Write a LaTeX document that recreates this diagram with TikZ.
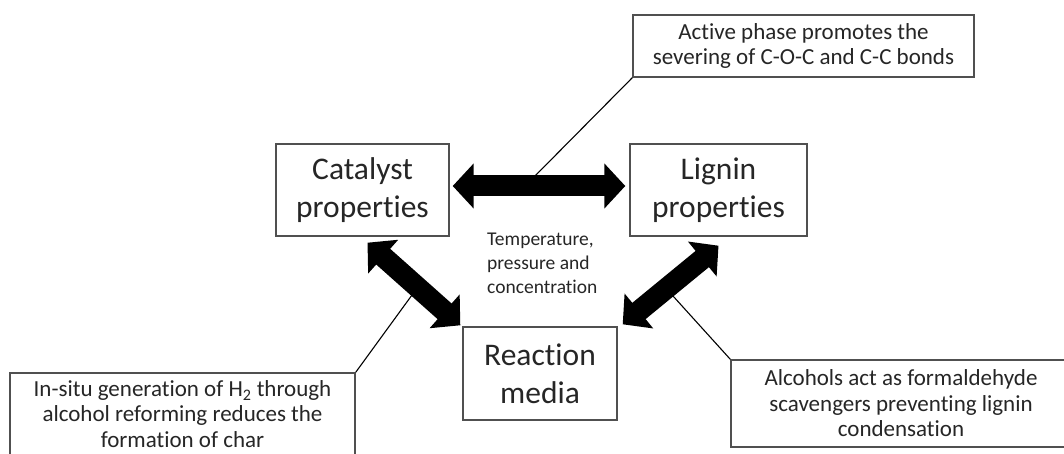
\documentclass[tikz,border=0pt]{standalone}
\usepackage{fontspec}
\setmainfont{Carlito}[Ligatures=NoCommon]
\usetikzlibrary{arrows.meta}
\definecolor{txt}{HTML}{262626}
\definecolor{boxline}{HTML}{505050}
\tikzset{
  mainbox/.style={draw=boxline, line width=1.4pt, inner sep=0pt, align=center, text=txt,
    font=\fontsize{31.5}{38}\selectfont},
  calloutbox/.style={draw=boxline, line width=1.4pt, inner sep=0pt, align=center, text=txt,
    font=\fontsize{23}{25.5}\selectfont},
  centertext/.style={inner sep=0pt, align=left, text=txt, font=\fontsize{19.5}{24}\selectfont},
  bigarrow/.style={line width=21pt, black,
    {Triangle[length=21pt,width=44pt]}-{Triangle[length=21pt,width=44pt]}},
  leader/.style={black, line width=1.1pt}
}
\begin{document}
\begin{tikzpicture}[x=1pt,y=-1pt]
\clip (0,0) rectangle (1064,454);
\fill[white] (0,0) rectangle (1064,454);
\node[mainbox, minimum width=173pt, minimum height=92pt] (cat) at (362.5,190) {Catalyst\\properties};
\node[mainbox, minimum width=177pt, minimum height=92pt] (lig) at (718.5,190) {Lignin\\properties};
\node[mainbox, minimum width=154pt, minimum height=93pt] (rm) at (540,373.5) {Reaction\\media};
\node[calloutbox, minimum width=341pt, minimum height=62pt] (top) at (803.5,46) {Active phase promotes the\\severing of C-O-C and C-C bonds};
\node[calloutbox, minimum width=345pt, minimum height=82pt] (lb) at (182.5,414) {In-situ generation of H\textsubscript{2} through\\alcohol reforming reduces the\\formation of char};
\node[calloutbox, minimum width=340pt, minimum height=87pt] (rb) at (901,403.5) {Alcohols act as formaldehyde\\scavengers preventing lignin\\condensation};
\node[centertext, anchor=north west] (temp) at (487,233) {Temperature,\\pressure and\\concentration};
\coordinate (c1) at (533,178);
\coordinate (c2) at (412,295);
\coordinate (c3) at (673,296);
\draw[leader] (c1) -- (top.south west);
\draw[leader] (c2) -- (lb.north east);
\draw[leader] (c3) -- (rb.north west);
\draw[bigarrow] ([shift={(3,-4)}]cat.east) -- ([shift={(-4,-4)}]lig.west);
\draw[bigarrow] ([shift={(5,6)}]cat.south) -- ([shift={(-2,-1)}]rm.north west);
\draw[bigarrow] ([shift={(5,-2)}]rm.north east) -- ([shift={(0,9)}]lig.south);
\end{tikzpicture}
\end{document}
